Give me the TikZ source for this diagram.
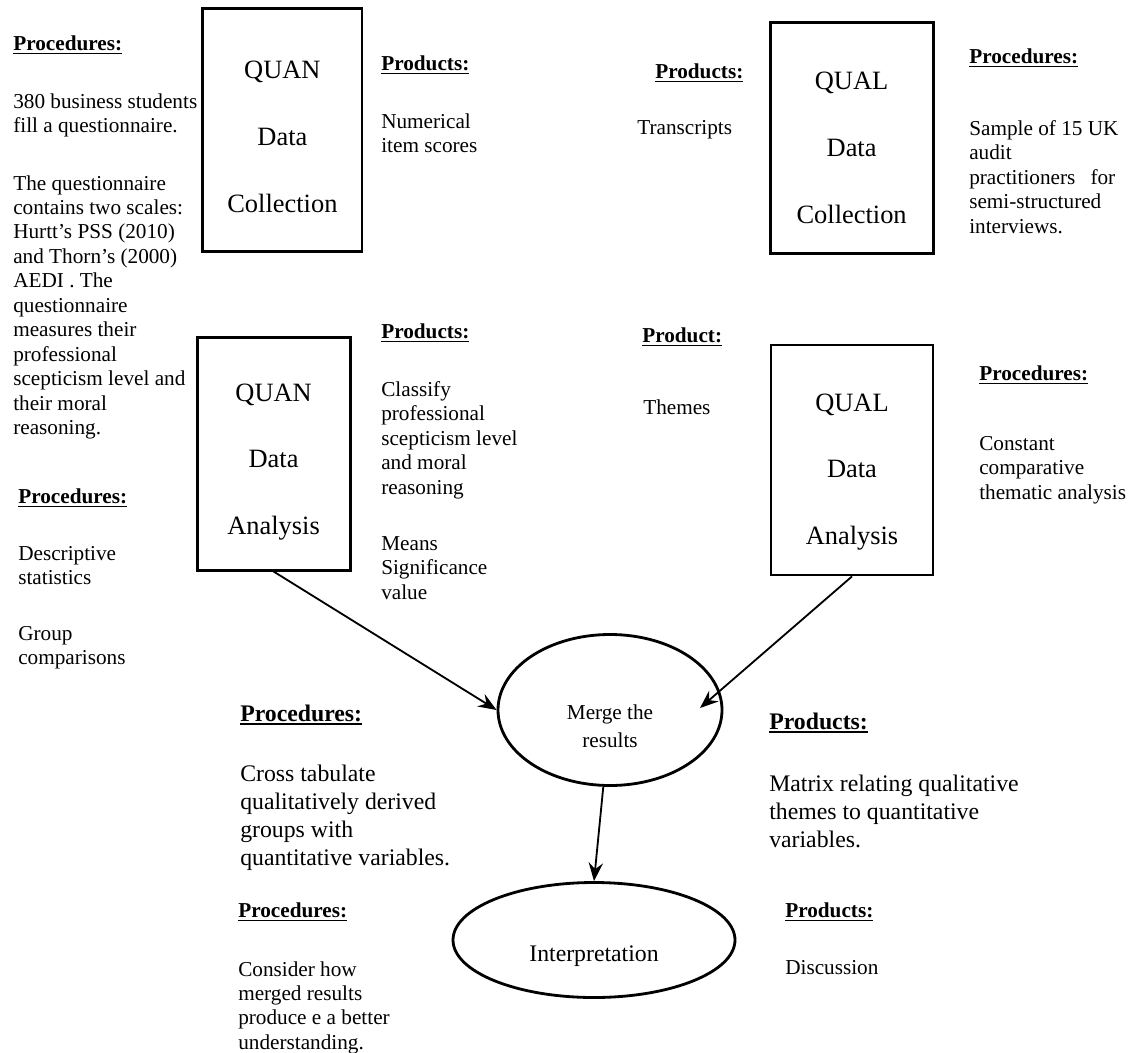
\documentclass[tikz,border=0pt]{standalone}
\usepackage{fontspec}
\setmainfont{Liberation Serif}
\usetikzlibrary{arrows.meta,shapes.geometric}
\def\txtsize{\fontsize{15.1}{17.4}\selectfont}
\def\bigsize{\fontsize{16.9}{19.9}\selectfont}
\def\boxsize{\fontsize{18.8}{47.5}\selectfont}
\def\mergesize{\fontsize{15.1}{19.9}\selectfont}
\def\head#1{\setbox0=\hbox{\textbf{#1}}\rlap{\vrule height -1.5pt depth 2.8pt width \wd0}\box0}
\tikzset{
	databox/.style={draw, line width=2pt, inner sep=0pt},
	oval/.style={draw, ellipse, line width=2pt, inner sep=0pt},
	txt/.style={inner sep=0pt, align=left, font=\txtsize},
	bigtxt/.style={inner sep=0pt, align=left, font=\bigsize},
	boxtxt/.style={inner sep=0pt, align=center, font=\boxsize},
	flow/.style={line width=1.3pt, -{Stealth[length=4.6mm,width=3.6mm,inset=1.6mm]}}
}

\begin{document}
\begin{tikzpicture}
		%%%%% START %%%%%
		
		\useasboundingbox (0,0) rectangle (28.5,-26.3);
		
		\node[databox, minimum width=3.975cm, minimum height=6.075cm] (quanColl) at (7.06,-3.26) {};
		\node[boxtxt] (quanCollTxt) at (7.06,-3.425) {QUAN\\Data\\Collection};
		\node[databox, minimum width=3.825cm, minimum height=5.825cm] (quanAna) at (6.84,-11.34) {};
		\node[boxtxt] (quanAnaTxt) at (6.84,-11.55) {QUAN\\Data\\Analysis};
		
		\node[databox, minimum width=4.075cm, minimum height=5.775cm] (qualColl) at (21.29,-3.44) {};
		\node[boxtxt] (qualCollTxt) at (21.29,-3.7) {QUAL\\Data\\Collection};
		\node[databox, minimum width=4.05cm, minimum height=5.75cm] (qualAna) at (21.3,-11.5) {};
		\node[boxtxt] (qualAnaTxt) at (21.3,-11.8) {QUAL\\Data\\Analysis};
		
		\node[txt, anchor=west] (procQuanColl) at (0.325,-1.125) {\head{Procedures:}};
		\node[txt, anchor=north west] (procQuanCollA) at (0.325,-2.325) {380 business students\\fill a questionnaire.};
		\node[txt, anchor=north west] (procQuanCollB) at (0.325,-4.375) {The questionnaire\\contains two scales:\\Hurtt's PSS (2010)\\and Thorn's (2000)\\AEDI . The\\questionnaire\\measures their\\professional\\scepticism level and\\their moral\\reasoning.};
		\node[txt, anchor=west] (procQuanAna) at (0.45,-12.45) {\head{Procedures:}};
		\node[txt, anchor=north west] (procQuanAnaA) at (0.45,-13.65) {Descriptive\\statistics};
		\node[txt, anchor=north west] (procQuanAnaB) at (0.45,-15.65) {Group\\comparisons};
		
		\node[txt, anchor=west] (prodQuanColl) at (9.525,-1.625) {\head{Products:}};
		\node[txt, anchor=north west] (prodQuanCollA) at (9.525,-2.825) {Numerical\\item scores};
		\node[txt, anchor=west] (prodQuanAna) at (9.525,-8.325) {\head{Products:}};
		\node[txt, anchor=north west] (prodQuanAnaA) at (9.525,-9.525) {Classify\\professional\\scepticism level\\and moral\\reasoning};
		\node[txt, anchor=north west] (prodQuanAnaB) at (9.525,-13.4) {Means\\Significance\\value};
		
		\node[txt, anchor=west] (prodQualColl) at (16.375,-1.825) {\head{Products:}};
		\node[txt, anchor=west] (prodQualCollA) at (15.925,-3.25) {Transcripts};
		\node[txt, anchor=west] (prodQualAna) at (16.05,-8.425) {\head{Product:}};
		\node[txt, anchor=west] (prodQualAnaA) at (16.075,-10.175) {Themes};
		
		\node[txt, anchor=west] (procQualColl) at (24.225,-1.45) {\head{Procedures:}};
		\node[txt, anchor=north west] (procQualCollA) at (24.225,-3.0) {Sample of 15 UK\\audit\\\makebox[3.65cm][s]{practitioners for}\\semi-structured\\interviews.};
		\node[txt, anchor=west] (procQualAna) at (24.475,-9.375) {\head{Procedures:}};
		\node[txt, anchor=north west] (procQualAnaA) at (24.475,-10.9) {Constant\\comparative\\thematic analysis};
		
		\node[oval, minimum width=5.6cm, minimum height=3.775cm] (merge) at (15.25,-17.75) {};
		\node[inner sep=0pt, align=center, font=\mergesize] (mergeTxt) at (15.25,-18.15) {Merge the\\results};
		\coordinate (mergeIn) at (17.5,-17.7);
		\node[oval, minimum width=7.05cm, minimum height=2.875cm] (interp) at (14.85,-23.5) {};
		\node[inner sep=0pt, font=\bigsize] (interpTxt) at (14.85,-23.9) {Interpretation};
		
		\draw[flow] (quanAna.south) -- (merge.west);
		\draw[flow] (qualAna.south) -- (mergeIn);
		\draw[flow] (merge.265) -- (interp.north);
		
		\node[bigtxt, anchor=west] (procMerge) at (6.0,-17.875) {\head{Procedures:}};
		\node[bigtxt, anchor=north west] (procMergeA) at (6.0,-19.125) {Cross tabulate\\qualitatively derived\\groups with\\quantitative variables.};
		\node[bigtxt, anchor=west] (prodMerge) at (19.225,-18.075) {\head{Products:}};
		\node[bigtxt, anchor=north west] (prodMergeA) at (19.225,-19.375) {Matrix relating qualitative\\themes to quantitative\\variables.};
		
		\node[txt, anchor=west] (procInterp) at (5.95,-22.8) {\head{Procedures:}};
		\node[txt, anchor=north west] (procInterpA) at (5.95,-24.025) {Consider how\\merged results\\produce e a better\\understanding.};
		\node[txt, anchor=west] (prodInterp) at (19.625,-22.8) {\head{Products:}};
		\node[txt, anchor=west] (prodInterpA) at (19.625,-24.2) {Discussion};
		
		%%%%% END %%%%%
\end{tikzpicture}
\end{document}
